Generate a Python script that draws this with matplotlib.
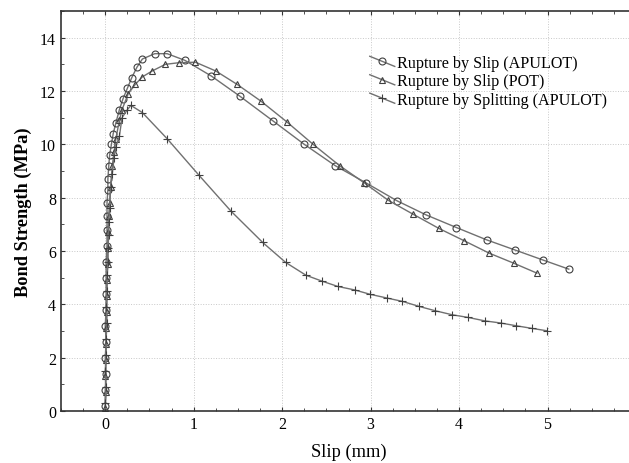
import matplotlib
matplotlib.use("Agg")
import numpy as np
import matplotlib.pyplot as plt
from matplotlib.legend_handler import HandlerLine2D
from matplotlib.lines import Line2D
from matplotlib.ticker import MultipleLocator

plt.rcParams['font.family'] = ['Liberation Serif', 'DejaVu Serif']

# Rupture by Slip (APULOT) - circles
slip_apulot_x = [0.00, 0.00, 0.01, 0.00, 0.01, 0.00, 0.01, 0.01, 0.01, 0.01, 0.02, 0.02, 0.02, 0.02,
                 0.03, 0.03, 0.04, 0.05, 0.07, 0.09, 0.12, 0.16, 0.20, 0.25, 0.30, 0.36, 0.42,
                 0.56, 0.70, 0.90, 1.20, 1.52, 1.90, 2.25, 2.60, 2.95, 3.30, 3.63, 3.97, 4.31,
                 4.63, 4.95, 5.24]
slip_apulot_y = [0.2, 0.8, 1.4, 2.0, 2.6, 3.2, 3.8, 4.4, 5.0, 5.6, 6.2, 6.8, 7.3, 7.8,
                 8.3, 8.7, 9.2, 9.6, 10.0, 10.4, 10.8, 11.3, 11.7, 12.1, 12.5, 12.9, 13.2,
                 13.4, 13.4, 13.15, 12.56, 11.81, 10.87, 10.0, 9.2, 8.55, 7.88, 7.35, 6.88, 6.42,
                 6.04, 5.66, 5.32]

# Rupture by Slip (POT) - triangles
slip_pot_x = [0.00, 0.01, 0.00, 0.01, 0.01, 0.01, 0.02, 0.02, 0.02, 0.03, 0.03, 0.03,
              0.04, 0.05, 0.06, 0.08, 0.10, 0.12, 0.16, 0.19, 0.26, 0.34, 0.42, 0.53,
              0.68, 0.83, 1.02, 1.25, 1.49, 1.76, 2.05, 2.35, 2.65, 2.93, 3.20, 3.48,
              3.77, 4.06, 4.34, 4.62, 4.88]
slip_pot_y = [0.1, 0.7, 1.3, 1.9, 2.5, 3.1, 3.7, 4.3, 4.9, 5.5, 6.1, 6.7,
              7.3, 7.8, 8.4, 9.2, 9.7, 10.2, 10.9, 11.3, 11.9, 12.25, 12.53, 12.75,
              13.0, 13.06, 13.08, 12.75, 12.25, 11.62, 10.85, 10.0, 9.2, 8.55, 7.9, 7.38,
              6.85, 6.38, 5.92, 5.54, 5.17]

# Rupture by Splitting (APULOT) - plus
split_apulot_x = [0.00, 0.01, 0.00, 0.01, 0.01, 0.02, 0.01, 0.02, 0.02, 0.03, 0.03, 0.04,
                  0.04, 0.05, 0.06, 0.08, 0.10, 0.12, 0.16, 0.19, 0.25, 0.29, 0.42, 0.70,
                  1.06, 1.42, 1.78, 2.04, 2.27, 2.45, 2.63, 2.82, 2.99, 3.18, 3.36, 3.55,
                  3.73, 3.92, 4.10, 4.29, 4.47, 4.64, 4.82, 4.99]
split_apulot_y = [0.3, 0.9, 1.5, 2.1, 2.7, 3.3, 3.9, 4.5, 5.1, 5.6, 6.1, 6.6,
                  7.1, 7.6, 8.4, 8.9, 9.5, 9.9, 10.3, 11.0, 11.3, 11.46, 11.19, 10.21,
                  8.84, 7.5, 6.32, 5.57, 5.09, 4.87, 4.67, 4.54, 4.38, 4.24, 4.11, 3.92,
                  3.76, 3.61, 3.51, 3.38, 3.30, 3.20, 3.10, 3.01]

labels = ["Rupture by Slip (APULOT)", "Rupture by Slip (POT)", "Rupture by Splitting (APULOT)"]
x_ticks = [0, 1, 2, 3, 4, 5]
y_ticks = [0, 2, 4, 6, 8, 10, 12, 14]

fig = plt.figure(figsize=(6.29, 4.64), dpi=100)
ax = fig.add_axes([61 / 629, 52 / 464, 575 / 629, 400 / 464])

line_kw = dict(color='#707070', linewidth=1.0, markerfacecolor='none',
               markeredgecolor='#404040', markeredgewidth=0.8)
ax.plot(slip_apulot_x, slip_apulot_y, marker='o', markersize=5, label=labels[0], **line_kw)
ax.plot(slip_pot_x, slip_pot_y, marker='^', markersize=5, label=labels[1], **line_kw)
ax.plot(split_apulot_x, split_apulot_y, marker='+', markersize=6, label=labels[2], **line_kw)

ax.set_xlim(-0.5, 6.0)
ax.set_ylim(0, 15)
ax.set_xticks(x_ticks)
ax.set_yticks(y_ticks)
ax.xaxis.set_minor_locator(MultipleLocator(0.25))
ax.yaxis.set_minor_locator(MultipleLocator(1))
ax.tick_params(which='both', direction='in', top=True, right=True, labelsize=11.5,
               color='#333333')
ax.tick_params(which='major', length=3)
ax.tick_params(which='minor', length=2)
ax.grid(True, which='major', linestyle=':', color='#c8c8c8', linewidth=0.7)
ax.axvline(6.0, linestyle=':', color='#c8c8c8', linewidth=0.7)
for s in ax.spines.values():
    s.set_color('#333333')
    s.set_linewidth(1.2)

ax.set_xlabel("Slip (mm)", fontsize=13.2, labelpad=8)
ax.set_ylabel("Bond Strength (MPa)", fontsize=13.2, fontweight='bold', labelpad=6)


class DiagHandler(HandlerLine2D):
    def create_artists(self, legend, orig_handle, xdescent, ydescent, width, height,
                       fontsize, trans):
        arts = super().create_artists(legend, orig_handle, xdescent, ydescent, width,
                                      height, fontsize, trans)
        line = arts[0]
        n = len(line.get_xdata())
        y0 = height / 2 - ydescent
        line.set_ydata(np.linspace(y0 + height * 0.45, y0 - height * 0.45, n))
        return arts


leg = ax.legend(loc='upper left', bbox_to_anchor=(0.537, 0.89), frameon=False,
                fontsize=11.6, handlelength=1.55, handletextpad=0.12, labelspacing=0.15,
                borderpad=0, borderaxespad=0,
                handler_map={Line2D: DiagHandler(numpoints=1)})

fig.savefig("out.png", dpi=100)
